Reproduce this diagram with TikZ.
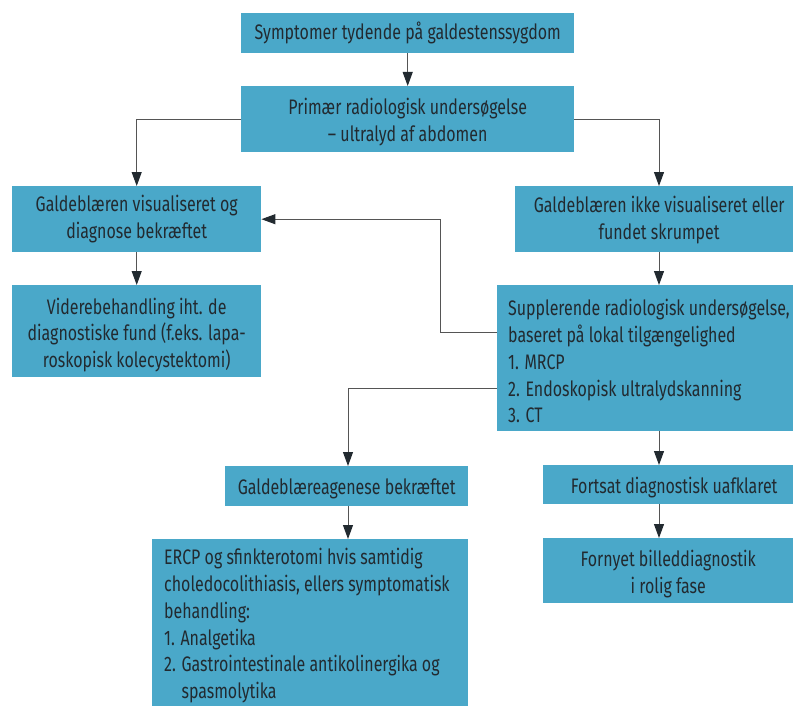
\documentclass[tikz,border=0pt]{standalone}
\usepackage{fontspec}
\setmainfont[FakeStretch=0.76]{Fira Sans}
\usetikzlibrary{arrows.meta,calc}
\definecolor{boxfill}{HTML}{4AA8C9}
\definecolor{txt}{HTML}{222A30}
\definecolor{ln}{HTML}{555555}
\newcommand{\bxfont}{\fontsize{21}{26.8}\selectfont}
\newcommand{\dn}[1]{\rule{0pt}{#1pt}}
\begin{document}
\begin{tikzpicture}[x=1pt,y=-1pt,
  box/.style={fill=boxfill,draw=none,anchor=north west,inner sep=0pt,
    text=txt,font=\bxfont,align=center},
  arr/.style={draw=ln,line width=1pt,-{Triangle[length=14pt,width=10pt,fill=txt,color=txt]}}]
\useasboundingbox (0,0) rectangle (795,706);
\node[box,minimum width=333pt,minimum height=40pt] (b1) at (241,13) {Symptomer tydende på galdestenssygdom};
\node[box,minimum width=333pt,minimum height=66pt] (b2) at (241,86) {\dn{22}Primær radiologisk undersøgelse\\– ultralyd af abdomen};
\node[box,minimum width=249pt,minimum height=66pt] (b3) at (12,186) {Galdeblæren visualiseret og\\diagnose bekræftet};
\node[box,minimum width=278pt,minimum height=66pt] (b4) at (515,186) {\hspace*{10pt}\dn{18}Galdeblæren ikke visualiseret eller\\\hspace*{10pt}fundet skrumpet};
\node[box,minimum width=249pt,minimum height=92pt] (b5) at (12,285) {\dn{24}Viderebehandling iht. de\\diagnostiske fund (f.eks. lapa-\\roskopisk kolecystektomi)};
\node[box,minimum width=296pt,minimum height=146pt,align=left] (b6) at (497,285) {\hspace*{11pt}\parbox{285pt}{\raggedright\bxfont\vspace*{6pt}Supplerende radiologisk undersøgelse,\\baseret på lokal tilgængelighed\\1. MRCP\\2. Endoskopisk ultralydskanning\\3. CT}};
\node[box,minimum width=243pt,minimum height=40pt] (b7) at (225,466) {\dn{22}Galdeblæreagenese bekræftet};
\node[box,minimum width=316pt,minimum height=167pt,align=left] (b8) at (152,539) {\hspace*{12pt}\parbox{304pt}{\raggedright\bxfont\vspace*{6pt}ERCP og sfinkterotomi hvis samtidig\\choledocolithiasis, ellers symptomatisk\\behandling:\\1. Analgetika\\2. Gastrointestinale antikolinergika og\\\phantom{2. }spasmolytika}};
\node[box,minimum width=250pt,minimum height=39pt] (b9) at (543,465) {\hspace*{12pt}\dn{23}Fortsat diagnostisk uafklaret};
\node[box,minimum width=250pt,minimum height=65pt] (b10) at (543,538) {\dn{23}Fornyet billeddiagnostik\\i rolig fase};
\coordinate (cx) at (659,0);
\coordinate (ya) at (0,332);
\coordinate (yb) at (0,388);
\coordinate (xa) at (440,0);
\coordinate (xb) at (348,0);
\draw[arr] (b1.south) -- (b2.north);
\draw[arr] (b2.west) -| (b3.north);
\draw[arr] (b2.east) -| (b4.north -| cx);
\draw[arr] (b3.south) -- (b5.north);
\draw[arr] (b4.south -| cx) -- (b6.north -| cx);
\draw[arr] (b6.west |- ya) -- (xa |- ya) |- (b3.east);
\draw[arr] (b6.west |- yb) -| (b7.north -| xb);
\draw[arr] (b6.south -| cx) -- (b9.north -| cx);
\draw[arr] (b7.south -| xb) -- (b8.north -| xb);
\draw[arr] (b9.south -| cx) -- (b10.north -| cx);
\end{tikzpicture}
\end{document}
